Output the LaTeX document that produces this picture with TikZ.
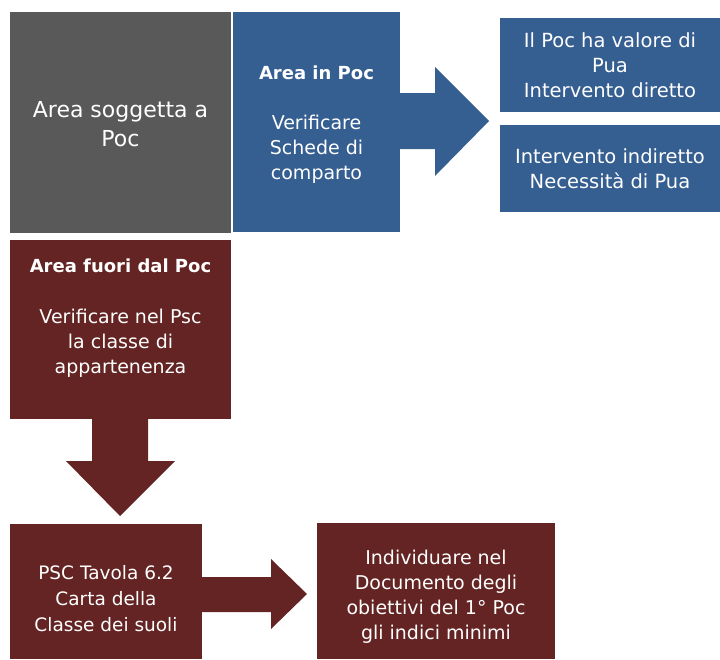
\documentclass[tikz,border=0pt]{standalone}
\usepackage{fontspec}
\setmainfont{DejaVu Sans}
\usetikzlibrary{positioning}
\definecolor{pocgrey}{RGB}{89,89,89}
\definecolor{pocblue}{RGB}{53,94,145}
\definecolor{pocred}{RGB}{99,36,35}
\tikzset{
	box/.style={rectangle, anchor=north west, inner sep=0pt, outer sep=0pt, text=white, align=center},
	txt/.style={text=white, align=center, inner sep=0pt},
	norm/.style={font=\fontsize{19}{25}\selectfont},
}

\begin{document}
\begin{tikzpicture}[x=1pt,y=-1pt]
	\useasboundingbox (0,0) rectangle (720,659);

	\node[box, fill=pocgrey, minimum width=221pt, minimum height=221pt] (soggetta) at (10,12) {};
	\node[txt, font=\fontsize{22}{29}\selectfont] (soggettatxt) at ([yshift=-2pt]soggetta.center)
		{Area soggetta a\\Poc};
	\node[box, fill=pocblue, minimum width=167pt, minimum height=220pt] (inpoc) at (233,12) {};
	\node[txt, norm] (inpoctxt) at ([yshift=-3pt]inpoc.center)
		{{\fontsize{18}{25}\selectfont\bfseries Area in Poc}\\[25pt]Verificare\\Schede di\\comparto};

	\node[box, fill=pocblue, minimum width=220pt, minimum height=94pt,
		font=\fontsize{19.5}{25}\selectfont] (diretto) at (500,18)
		{Il Poc ha valore di\\Pua\\Intervento diretto};
	\node[box, fill=pocblue, minimum width=220pt, minimum height=87pt,
		font=\fontsize{19.5}{25}\selectfont] (indiretto) at (500,125)
		{Intervento indiretto\\Necessità di Pua};

	\fill[pocblue] (400,93) -- (435,93) -- (435,67) -- (489,121)
		-- (435,176) -- (435,149) -- (400,149) -- cycle;

	\node[box, fill=pocred, minimum width=221pt, minimum height=179pt] (fuori) at (10,240) {};
	\node[txt, norm] (fuoritxt) at ([yshift=11pt]fuori.center)
		{{\fontsize{18}{25}\selectfont\bfseries Area fuori dal Poc}\\[26pt]Verificare nel Psc\\la classe di\\appartenenza};

	\fill[pocred] (92,419) -- (148,419) -- (148,461) -- (175,461)
		-- (120,516) -- (66,461) -- (92,461) -- cycle;

	\node[box, fill=pocred, minimum width=192pt, minimum height=135pt] (tavola) at (10,524) {};
	\node[txt, font=\fontsize{18.5}{26}\selectfont] (tavolatxt) at ([yshift=-7pt]tavola.center)
		{PSC Tavola 6.2\\Carta della\\Classe dei suoli};
	\node[box, fill=pocred, minimum width=238pt, minimum height=136pt] (indici) at (317,523) {};
	\node[txt, norm] (indicitxt) at ([yshift=-6pt]indici.center)
		{Individuare nel\\Documento degli\\obiettivi del 1° Poc\\gli indici minimi};

	\fill[pocred] (202,577) -- (271,577) -- (271,559) -- (307,594)
		-- (271,629) -- (271,612) -- (202,612) -- cycle;
\end{tikzpicture}
\end{document}
